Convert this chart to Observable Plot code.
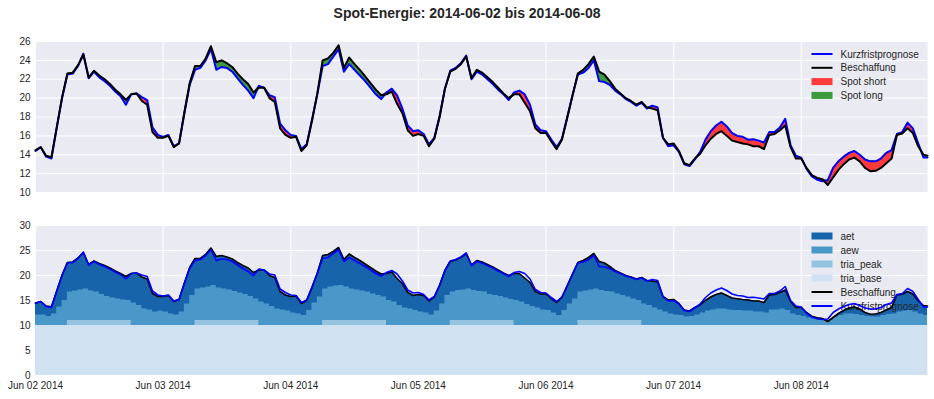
<!DOCTYPE html>
<html><head><meta charset="utf-8">
<script src="https://cdn.jsdelivr.net/npm/d3@7"></script>
<script src="https://cdn.jsdelivr.net/npm/@observablehq/plot@0.6"></script>
<style>
body{margin:0;background:#fff;font-family:"Liberation Sans",Arial,sans-serif;}
#wrap{position:relative;width:934px;height:399px;overflow:hidden;}
#title{position:absolute;left:0;top:5px;width:934px;text-align:center;font-weight:bold;font-size:14px;color:#262626;}
#top{position:absolute;left:0;top:29px;}
#bot{position:absolute;left:0;top:213px;}
</style></head><body>
<div id="wrap"><div id="title">Spot-Energie: 2014-06-02 bis 2014-06-08</div><div id="top"></div><div id="bot"></div></div>
<script>
// Hourly samples, Jun 02 00:00 UTC ... Jun 08 23:00, plus final sample at Jun 08 23:45
const beschaffung = [
 14.5,14.8,13.9,13.75,16.9,20.1,22.6,22.7,23.5,24.6,22.2,22.9,22.4,22.0,21.5,20.9,20.4,19.8,20.4,20.5,19.7,19.3,16.4,15.8,
 15.8,16.0,14.8,15.2,18.5,21.6,23.4,23.4,24.2,25.5,23.8,24.0,23.7,23.3,22.6,22.0,21.5,20.6,21.1,21.1,20.0,19.6,16.8,16.1,
 15.8,15.9,14.4,15.0,17.6,20.5,24.0,24.2,24.8,25.6,23.2,24.3,23.6,23.0,22.3,21.6,20.9,20.3,20.4,20.7,19.4,18.4,16.6,16.0,
 16.2,16.0,14.9,15.7,18.0,21.0,22.8,23.1,23.6,24.4,22.1,23.0,22.7,22.2,21.7,21.1,20.5,20.0,20.4,20.4,19.5,18.6,16.8,16.3,
 16.3,15.4,14.6,15.6,17.9,20.3,22.6,23.0,23.6,24.4,22.8,22.5,21.8,21.0,20.5,20.0,19.7,19.3,19.6,19.0,18.9,18.7,15.8,15.1,
 15.2,14.4,13.1,12.9,13.6,14.1,15.0,15.7,16.2,16.5,16.0,15.5,15.35,15.2,15.1,14.9,14.9,14.6,16.1,16.2,16.6,17.1,14.8,13.6,
 13.6,12.6,11.85,11.55,11.4,10.8,11.6,12.4,13.0,13.5,13.7,13.3,12.6,12.25,12.3,12.6,13.1,13.6,16.1,16.25,16.8,16.3,14.9,14.0,
 13.9
];
const kurzfristprognose = [
 14.4,14.8,13.8,13.6,16.9,20.0,22.5,22.6,23.4,24.7,22.1,22.8,22.2,21.8,21.3,20.7,20.2,19.3,20.4,20.5,20.1,19.8,16.9,16.1,
 15.9,16.1,14.9,15.2,18.4,21.4,23.0,23.2,24.0,25.2,23.0,23.3,23.2,22.8,22.1,21.4,20.8,20.0,21.3,21.1,20.3,20.1,17.3,16.6,
 16.1,16.0,14.6,15.1,17.7,20.4,23.4,23.6,24.4,25.2,22.8,23.6,23.0,22.4,21.8,21.1,20.4,19.9,20.6,21.0,20.3,18.9,17.1,16.5,
 16.6,16.2,15.1,15.8,18.1,21.0,22.9,23.2,23.7,24.5,22.0,22.8,22.5,22.0,21.5,20.9,20.4,19.8,20.6,20.8,20.4,19.3,17.2,16.6,
 16.5,15.6,14.8,15.7,18.0,20.3,22.5,22.7,23.2,24.0,21.8,21.7,21.4,20.8,20.4,19.9,19.6,19.2,19.5,18.9,19.2,19.0,15.8,14.9,
 15.0,14.3,13.0,12.8,13.5,14.3,15.6,16.5,17.1,17.5,17.0,16.3,16.0,15.9,15.6,15.65,15.5,15.3,16.4,16.4,16.9,17.8,15.0,13.9,
 13.7,12.5,11.7,11.35,11.2,11.3,12.6,13.3,13.8,14.2,14.4,14.0,13.5,13.3,13.3,13.6,14.2,14.5,16.2,16.4,17.4,16.8,15.2,13.7,
 13.7
];
const aew = [
 2.1,2.1,1.8,2.3,3.7,5.0,5.7,5.9,6.1,6.3,5.9,5.7,5.2,4.8,4.5,4.3,4.1,4.0,4.5,4.0,3.3,3.1,2.7,2.9,
 2.7,2.3,2.1,2.7,4.3,6.0,6.3,6.5,6.7,7.0,6.5,6.3,6.1,5.8,5.5,5.2,4.8,4.3,4.7,4.3,3.8,3.3,3.1,2.9,
 2.5,2.3,2.0,3.0,4.5,5.7,6.3,6.7,6.9,7.0,6.7,6.3,6.1,5.9,5.7,5.3,5.0,4.7,5.0,4.7,4.0,3.5,3.3,3.0,
 2.7,2.5,2.1,2.9,4.3,6.0,5.7,6.0,6.1,6.3,6.0,5.8,5.7,5.2,5.0,4.8,4.5,4.2,5.0,4.7,4.2,3.8,3.5,3.1,
 3.0,2.5,2.0,3.0,4.3,5.3,5.7,5.9,6.1,6.3,6.0,5.8,5.7,5.3,5.0,4.7,4.3,4.0,4.3,4.0,3.5,3.1,2.7,2.3,
 2.1,2.0,1.7,1.8,2.1,2.5,2.9,3.1,3.3,3.3,3.1,3.0,3.0,2.9,2.9,2.7,2.7,2.5,3.1,3.1,3.3,3.0,2.3,2.0,
 1.8,1.5,1.3,1.1,1.0,1.0,1.7,2.0,2.3,2.3,2.2,2.0,1.8,1.7,1.7,2.0,2.2,2.3,2.7,2.9,3.0,2.7,2.3,2.0,
 2.0
];
const triaPeak = [
 0,0,0,0,0,0,1,1,1,1,1,1,1,1,1,1,1,1,0,0,0,0,0,0,
 0,0,0,0,0,0,1,1,1,1,1,1,1,1,1,1,1,1,0,0,0,0,0,0,
 0,0,0,0,0,0,1,1,1,1,1,1,1,1,1,1,1,1,0,0,0,0,0,0,
 0,0,0,0,0,0,1,1,1,1,1,1,1,1,1,1,1,1,0,0,0,0,0,0,
 0,0,0,0,0,0,1,1,1,1,1,1,1,1,1,1,1,1,0,0,0,0,0,0,
 0,0,0,0,0,0,0,0,0,0,0,0,0,0,0,0,0,0,0,0,0,0,0,0,
 0,0,0,0,0,0,0,0,0,0,0,0,0,0,0,0,0,0,0,0,0,0,0,0,
 0
];
const triaBase = [
 10,10,10,10,10,10,10,10,10,10,10,10,10,10,10,10,10,10,10,10,10,10,10,10,
 10,10,10,10,10,10,10,10,10,10,10,10,10,10,10,10,10,10,10,10,10,10,10,10,
 10,10,10,10,10,10,10,10,10,10,10,10,10,10,10,10,10,10,10,10,10,10,10,10,
 10,10,10,10,10,10,10,10,10,10,10,10,10,10,10,10,10,10,10,10,10,10,10,10,
 10,10,10,10,10,10,10,10,10,10,10,10,10,10,10,10,10,10,10,10,10,10,10,10,
 10,10,10,10,10,10,10,10,10,10,10,10,10,10,10,10,10,10,10,10,10,10,10,10,
 10,10,10,10,10,10,10,10,10,10,10,10,10,10,10,10,10,10,10,10,10,10,10,10,
 10
];
const dayTickLabels = ["2014-06-02","2014-06-03","2014-06-04","2014-06-05","2014-06-06","2014-06-07","2014-06-08"];
const yTicksTop = [10,12,14,16,18,20,22,24,26];
const yTicksBottom = [0,5,10,15,20,25,30];
const topLegend = [
  {label:"Kurzfristprognose", kind:"line", color:"#0000ff"},
  {label:"Beschaffung", kind:"line", color:"#000000"},
  {label:"Spot short", kind:"patch", color:"#ff3a3c"},
  {label:"Spot long", kind:"patch", color:"#3a9a3c"}
];
const bottomLegend = [
  {label:"aet", kind:"patch", color:"#1764ab"},
  {label:"aew", kind:"patch", color:"#4a98c9"},
  {label:"tria_peak", kind:"patch", color:"#94c4df"},
  {label:"tria_base", kind:"patch", color:"#d0e1f2"},
  {label:"Beschaffung", kind:"line", color:"#000000"},
  {label:"Kurzfristprognose", kind:"line", color:"#0000ff"}
];

const start = new Date(Date.UTC(2014,5,2,0,0));
const end = new Date(Date.UTC(2014,5,8,23,45));
const times = beschaffung.map((_, i) => i < 168 ? new Date(Date.UTC(2014,5,2,i)) : end);
const rows = times.map((t, i) => ({
  t, B: beschaffung[i], K: kurzfristprognose[i], aew: aew[i], peak: triaPeak[i], base: triaBase[i]
}));
const dayTicks = dayTickLabels.map(s => new Date(s + "T00:00:00Z"));

function legendMark(items, x0, y0, step) {
  return () => {
    const g = d3.create("svg:g").attr("font-size", 10).attr("fill", "#262626")
      .attr("text-anchor", "start")
      .attr("font-family", "Liberation Sans, Arial, sans-serif");
    items.forEach((it, i) => {
      const y = y0 + i * step;
      if (it.kind === "line") {
        g.append("line").attr("x1", x0).attr("x2", x0 + 21).attr("y1", y).attr("y2", y)
          .attr("stroke", it.color).attr("stroke-width", 2);
      } else {
        g.append("rect").attr("x", x0).attr("y", y - 3.5).attr("width", 21).attr("height", 7)
          .attr("fill", it.color);
      }
      g.append("text").attr("x", x0 + 29).attr("y", y).attr("dy", "0.35em")
        .attr("text-anchor", "start").text(it.label);
    });
    return g.node();
  };
}

const styleCommon = {fontFamily: "Liberation Sans, Arial, sans-serif", fontSize: "10px", color: "#262626", background: "transparent", overflow: "visible"};

const topChart = Plot.plot({
  width: 934, height: 171, marginLeft: 35, marginRight: 7, marginTop: 12, marginBottom: 8,
  style: styleCommon,
  x: {type: "utc", domain: [start, end], axis: null},
  y: {domain: [10, 26], ticks: yTicksTop, tickSize: 0, tickPadding: 5, label: null},
  marks: [
    Plot.frame({fill: "#eaeaf2", stroke: "none"}),
    Plot.ruleY(yTicksTop, {stroke: "#ffffff", strokeWidth: 1}),
    Plot.ruleX(dayTicks, {stroke: "#ffffff", strokeWidth: 1}),
    Plot.areaY(rows, {x: "t", y1: "B", y2: d => Math.max(d.K, d.B), fill: "#ff3a3c"}),
    Plot.areaY(rows, {x: "t", y1: "K", y2: d => Math.max(d.K, d.B), fill: "#3a9a3c"}),
    Plot.line(rows, {x: "t", y: "K", stroke: "#0000ff", strokeWidth: 2}),
    Plot.line(rows, {x: "t", y: "B", stroke: "#000000", strokeWidth: 2}),
    legendMark(topLegend, 811.5, 25, 13.8)
  ]
});
document.getElementById("top").appendChild(topChart);

const botChart = Plot.plot({
  width: 934, height: 186, marginLeft: 35, marginRight: 7, marginTop: 12, marginBottom: 24,
  style: styleCommon,
  x: {type: "utc", domain: [start, end], ticks: dayTicks, tickFormat: d3.utcFormat("%b %d %Y"), tickSize: 0, tickPadding: 6, label: null},
  y: {domain: [0, 30], ticks: yTicksBottom, tickSize: 0, tickPadding: 5, label: null},
  marks: [
    Plot.frame({fill: "#eaeaf2", stroke: "none"}),
    Plot.ruleY(yTicksBottom, {stroke: "#ffffff", strokeWidth: 1}),
    Plot.ruleX(dayTicks, {stroke: "#ffffff", strokeWidth: 1}),
    Plot.areaY(rows, {x: "t", y1: 0, y2: "B", fill: "#1764ab"}),
    Plot.areaY(rows, {x: "t", y1: 0, y2: d => d.base + d.peak + d.aew, fill: "#4a98c9", curve: "step-after"}),
    Plot.areaY(rows, {x: "t", y1: 0, y2: d => d.base + d.peak, fill: "#94c4df", curve: "step-after"}),
    Plot.areaY(rows, {x: "t", y1: 0, y2: "base", fill: "#d0e1f2", curve: "step-after"}),
    legendMark(bottomLegend, 811.5, 23, 14),
    Plot.line(rows, {x: "t", y: "B", stroke: "#000000", strokeWidth: 1.6}),
    Plot.line(rows, {x: "t", y: "K", stroke: "#0000ff", strokeWidth: 1.6})
  ]
});
document.getElementById("bot").appendChild(botChart);
</script>
</body></html>
